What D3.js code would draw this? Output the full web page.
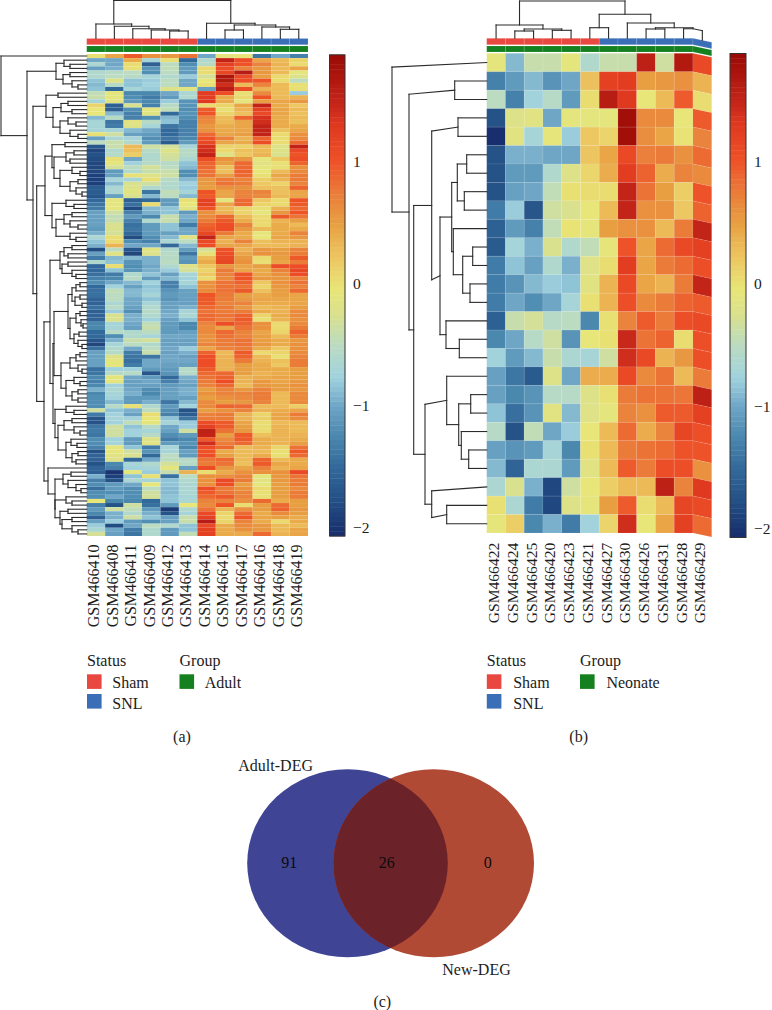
<!DOCTYPE html>
<html>
<head>
<meta charset="utf-8">
<script src="https://cdn.jsdelivr.net/npm/d3@7"></script>
<style>
html,body{margin:0;padding:0;background:#fff}
svg{display:block}
text{font-family:"Liberation Serif",serif;fill:#1c1c1c}
</style>
</head>
<body>
<svg id="chart" width="772" height="1010"></svg>
<script>
const adultSamples = ["GSM466410","GSM466408","GSM466411","GSM466409","GSM466412","GSM466413","GSM466414","GSM466415","GSM466417","GSM466416","GSM466418","GSM466419"];
const neonateSamples = ["GSM466422","GSM466424","GSM466425","GSM466420","GSM466423","GSM466421","GSM466427","GSM466430","GSM466426","GSM466431","GSM466428","GSM466429"];
const statusNames = ["Sham","SNL"];
const statusPerSample = ["Sham","Sham","Sham","Sham","Sham","Sham","SNL","SNL","SNL","SNL","SNL","SNL"];
const colorTicks = [-2,-1,0,1];
const vennSets = ["Adult-DEG","New-DEG"];
const vennCounts = [91,26,0];

const adultValues = [
[0,.45,.95,.6,.55,.8,-1,-.1,-.05,-1.4,-1,-1.3],
[-1,-1,.4,-.7,0,-1.5,-.6,1.5,1.05,.45,.3,.1],
[-.65,-1,.02,-1.6,-.5,-1.2,-.55,1.2,1,.7,.35,.05],
[-1.05,-.95,0,-1.15,-.45,-1.1,.05,1.05,.7,.55,.3,.45],
[-.6,-.55,-.5,-1.2,-.5,-1.1,.02,1.15,1.6,.55,.3,-.1],
[-.6,-.5,-.55,-.7,-.6,-.8,-.3,1.7,1.1,.5,.05,-.2],
[-.85,-.2,-.85,-.8,-.5,-1,-.05,1.65,1.05,1,.05,-.5],
[-.9,-.55,-.85,-.75,-.5,-1,0,1.4,.3,.7,.3,0],
[-.85,-1.5,-.7,-.8,-.2,-.15,-1.05,1.6,1.05,.35,.3,0],
[-.45,-.1,-1.25,-1.25,-1,-.65,1.25,1.05,0,.65,.3,-.8],
[-.4,-.1,-1.2,-1.35,-1.1,-.6,1.25,.4,.05,1,.3,.35],
[-.7,-.15,-1.1,-1.25,-.8,-1.15,1.3,.4,-.1,.5,.45,.55],
[.1,-1.6,-.25,-1.3,-.55,-1.15,.05,.1,.45,1.5,.4,.2],
[-.05,-1.6,-1.2,-.1,-.45,-1.2,.95,0,.35,1.2,.45,.3],
[-.05,-.9,-1.3,-.15,-1.5,-1.15,1,.1,.25,1.1,.45,.25],
[-.9,-.55,-1.3,-1.2,-.9,-1.2,.7,.3,.9,1.35,.4,.3],
[-.7,-1.4,-.15,-.55,-.85,-1.3,.65,.3,.45,1.4,.4,.25],
[-.7,-1.35,-.2,-.7,-1.4,-1.3,.55,.4,.45,1.5,.4,.4],
[-.7,-.7,-.9,-1,-1.5,-1.3,.6,.4,.45,1.5,.25,.45],
[0,-.35,-1.05,-1.1,-1.5,-1.3,.85,.45,.5,1.5,.05,.6],
[-1.05,-.65,-.7,-1.2,-1.4,-1.25,1,.7,.35,.9,.03,.65],
[-.5,-.4,-.6,-1.1,-1.65,-1.1,1.15,.45,.4,1.05,.02,.85],
[-1.7,-.4,.3,-.35,-.3,-.7,1.35,.1,.1,.3,-.2,1.5],
[-1.85,-.6,.25,-.55,-.2,-.55,1.4,.05,.25,.3,-.2,1.1],
[-1.75,-.55,.15,-.6,-.3,-.55,1.5,-.2,.2,.35,-.25,1],
[-1.8,0,-1,-.6,-.35,-.65,1.05,.6,.55,-.1,.2,1.05],
[-1.85,-.1,-.75,-.55,-.55,-.85,.9,.5,.85,-.15,0,.9],
[-1.85,-.3,-.5,-.3,-.5,-.9,.85,.25,.85,-.1,0,.6],
[-1.85,-1.1,-.6,-.4,-.4,-1.2,.8,.25,.9,-.05,.3,.65],
[-1.9,-1.05,0,-.2,-.35,-1.2,.8,.5,.85,0,.45,.75],
[-1.9,-.7,-.7,0,-.55,-.9,.55,.75,.7,.15,.35,.75],
[-1.9,-.9,-.25,-.35,-.6,-.75,.55,.8,.75,.2,.1,.7],
[-1.65,-.65,-.2,-.6,-.6,-.8,.5,.6,.6,.25,.25,.9],
[-1.65,-.65,-.15,-1.4,-.45,-.7,1,.45,.7,.7,.25,.45],
[-1.7,-1.05,-.25,-.9,-.5,-.9,.95,.45,.7,.65,.3,.45],
[-1.5,-.1,-1.6,-1.5,-1.1,0,1.2,-.1,.85,.2,.05,1],
[-1.4,-.1,-1.45,.05,-1.1,-.05,1.2,.45,.85,.1,.05,.95],
[-1.35,-.1,-1.8,-.9,-.85,-.15,1,.3,.1,0,.35,.85],
[-1.05,-.35,-1.3,-.95,-.85,-1.1,.6,.35,.1,-.1,.55,1],
[-1.05,-.45,-1.1,-1.25,-.4,-.95,.65,.85,.3,.05,.95,.8],
[-1.05,-.4,-1.3,-.6,-.4,-1,.75,.95,.4,.05,.35,.5],
[-1.05,-.25,-1.45,-1.1,-.85,-1.35,.9,1.05,.7,.05,.4,.3],
[-1.1,-.25,-1.4,-1.1,-.85,-1,.95,1.05,.55,.3,.4,.4],
[-.95,-.3,-1.5,-1.1,-1.05,-1,1.15,.75,.4,-.1,.4,.7],
[-.65,.02,-1.8,-1.2,-.9,-.15,1.5,.45,.4,-.05,.45,.55],
[-.85,.05,-1.2,-1.3,-.65,-.5,1.1,.35,.7,.25,.35,.35],
[-.95,.35,-1,-1,-1.5,-.9,1.05,.45,.45,.3,.3,.35],
[-1.8,-.5,-1.7,-.15,-.6,-1.1,-.3,1,.35,.55,.5,.7],
[-1.05,-.15,-1.85,-.2,-.55,-1.4,0,1.05,.45,.6,.55,.75],
[-1.35,-.9,-.9,-.95,-.55,-1.1,.3,1.1,.55,.05,.5,.95],
[-.6,-.85,-1.15,-.95,-.5,-1.15,.4,1.15,.6,0,.45,.75],
[-1.5,.02,-1.2,-1,-.6,-.2,.2,.55,.45,.5,1.05,1.05],
[-1.5,-.85,-1.15,-.95,-.8,-.3,.1,.75,.45,.4,.7,1.15],
[-1.45,-1.35,-.6,-.85,-1.05,-.7,.2,.7,1,.45,.6,1.05],
[-1.3,-1.25,-.55,-1.1,-.9,-.75,.05,.65,1,.55,.55,.7],
[-1.2,-1,-.9,-.75,-1.3,-.7,.6,.8,.9,.2,.6,.8],
[-1.5,-.75,-1.05,-.85,-1.3,-.85,.6,.8,.8,.1,.55,.7],
[-1.45,-.45,-.9,-.8,-1.15,-1.05,.65,.8,.95,.25,.5,.85],
[-1.45,-.5,-.9,-.7,-1.1,-1.05,1,.75,.5,.4,.5,.45],
[-1.55,-.5,-1,-.85,-1.15,-1.05,.95,.75,.55,.45,.45,.45],
[-1.55,-.65,-1,-.7,-1.05,-1.05,.95,.7,.7,.4,.4,.45],
[-1.45,-.55,-1.05,-.6,-1.05,-.95,.85,.75,.55,.3,.35,.5],
[-1.6,-.8,-1.2,-.55,-1,-.7,.8,.75,.75,.4,.35,.65],
[-1.55,-.25,-.95,-.6,-.95,-.65,.85,.8,.9,.1,.4,.65],
[-1.55,-.25,-.95,-.75,-1.05,-.85,.85,.75,.95,0,.35,.6],
[-1.25,-.7,-1,-.45,-1.1,-1.25,.7,1.05,.9,.6,.05,.65],
[-1.25,-.7,-1.05,-.4,-1.1,-1.25,.65,.45,.8,.6,.05,.75],
[-1.5,-.55,-.6,-.5,-1.1,-1.05,.65,.85,.7,.45,.1,.9],
[-1.5,-1.2,-.6,-.7,-1,-1,.6,.8,.7,.5,.3,.75],
[-1.7,-.95,-.4,-.3,-1.05,-1.05,.6,.75,.8,.5,.4,.55],
[-1.85,-.7,-.5,-.6,-1.05,-1.05,.7,.75,.8,.55,.4,.6],
[-1.45,-.6,-1,-.5,-1,-.8,.45,.7,.75,.4,.2,.6],
[-1.05,-.55,-1.35,-.4,-1.05,-.95,.9,.3,.95,.05,.1,.65],
[-1.05,-.2,-1.4,-1.4,-1,-1.05,1.05,.35,.9,.3,0,.7],
[-1.05,-.1,-1.45,-1,-1,-1,1.05,.35,.75,.35,.25,.75],
[-1.05,-.1,-1.35,-1,-1.05,-1.05,1.05,.35,.5,.4,.2,.75],
[-1.45,-.75,-.75,-1.1,-1.1,-.55,.95,.35,.5,.4,.4,.5],
[-1.4,-.55,-.55,-1.7,-1.15,-.55,.85,.85,.5,.35,.4,.5],
[-1.25,-.1,-1,-1.1,-1.5,-.95,.8,.9,.35,.4,.45,.5],
[-1.3,-.1,-1.05,-1,-1.3,-1,.75,1.05,.35,.55,.45,.55],
[-1.25,-.75,-1.05,-1.05,-1.1,-1.05,.7,.85,.3,.55,.5,.6],
[-.95,-.65,-1,-1.2,-1.05,-.95,.5,.7,.55,.7,.5,.55],
[-1.25,-.7,-.95,-1.25,-1.05,-.95,.6,.7,.7,.75,.3,.65],
[-1.2,-.75,-1.1,-1.1,-1.05,-1.05,.5,.6,.65,.75,.3,.65],
[-1.2,-.9,-1.1,-.95,-1.4,-.9,.65,.5,.55,.7,.3,.65],
[-1.2,-.55,0,-.6,-1.1,-.75,.65,.9,.85,.3,.3,.15],
[-.35,-.85,-.95,-.5,-1.2,-1.75,.5,.6,.7,.35,.4,.45],
[-1.35,-.75,-1.05,.02,-1.3,-1.65,.7,.75,.35,.1,.45,.75],
[-1.7,-.7,-.75,-.05,-.85,-1.4,.75,.75,.35,.15,.45,.65],
[-1.75,-.75,-.45,-.1,-.7,-.8,1.05,.95,.45,.02,.3,.3],
[-1.4,-.35,-.85,-.55,-1,-.8,1.2,.95,.5,.02,.35,.3],
[-1.35,-.35,-.75,-.7,-1.05,-.35,1.55,.8,.55,.05,.35,.3],
[-1.4,-.35,-.75,-.55,-1.2,-1.1,1.5,.5,.95,.25,.35,.35],
[-1.2,-.75,-1.1,-.2,-1.35,-1.25,.95,.65,.95,.4,.35,.4],
[-1.2,-.7,-1.1,-.15,-1.1,-1.15,1.4,.75,.85,.4,.35,.5],
[-1.3,-.1,-.85,-1.35,-.7,-1.25,1.05,.85,.3,.35,.1,.8],
[-1.75,-.1,-.35,-1.15,-.7,-1.05,1,.4,.3,.3,0,.95],
[-1.55,-.15,-.25,-1.5,-.5,-1.1,1.05,.5,.3,.4,0,.85],
[-1.55,-.2,-1.5,-1,-.5,-.55,.8,.85,.3,.9,.3,.4],
[-1.75,-1.25,-.7,-.6,-.3,-.55,.75,.8,.25,.95,.45,.4],
[-1.55,-1.3,-.75,-.7,-.1,-1.05,1.05,.55,.45,.7,.35,.45],
[-1.6,-2,-.1,-.8,-.4,.35,.02,.4,.6,.6,.6,1.1],
[-.95,-1.9,-.85,0,-1.45,-.5,.6,.6,.7,-.1,.55,.8],
[-1.3,-1.75,-.65,-.7,-.85,-.6,.6,1.1,.75,-.15,.55,.75],
[-1.2,-1.1,-1,-.05,-.85,-.65,.6,1.05,.5,-.1,.5,.75],
[-1.45,-1.1,-1.2,-.5,-.9,-.65,1.05,.75,.6,.05,.5,.65],
[-1.2,-1.2,-1.2,-.35,-.9,-.65,.95,.8,.7,0,.5,.75],
[-1.2,-1,-1.2,-.3,-.85,-.7,.85,.95,.7,0,.5,.75],
[-.05,-1.25,-1.25,-1.5,-.85,-.65,.7,.7,.6,.85,.4,.5],
[-1.3,-1.75,-.35,-1.45,-1.1,-.05,.65,1,.03,.5,.85,.5],
[-1.1,-.35,-.45,-1.1,-1.95,-.6,.8,.35,.6,.5,.9,.55],
[-1.25,-.95,-.6,-.95,-1.75,-.7,1.1,.1,.85,.4,.65,.5],
[-1.6,-.95,-.35,-.85,-1.05,-.4,1.2,.05,1,.45,.5,.4],
[-1.05,-.8,-1.1,-1.2,-1.05,-.4,1.6,.1,.7,.4,.05,.4],
[-.8,-1.8,-1,-.5,-.6,-.85,1.1,.4,.65,.55,.3,.3],
[-.65,-1,-1.35,-.6,-1.1,-.85,1.2,.4,.6,.55,.3,.45],
[-.3,-1.05,-1.4,-.6,-1.1,-.45,1.2,.4,.4,.85,.35,.45]
];

const neonateValues = [
[-.1,-.9,-.4,-.4,-.1,-.6,-.4,-.4,1.55,-.35,1.65,1.1],
[-1.3,-1.1,-.9,-1.15,-1,.25,1.2,1.25,.5,.55,.6,.35],
[-.5,-1.3,-.75,-.55,-1.1,.03,1.6,1.3,-.05,.3,.95,.02],
[-1.75,-.2,-.15,-1,-.1,-.1,-.1,1.8,.65,.65,-.05,.95],
[-2.05,-.15,-.7,-.08,-.8,.2,.1,1.8,.62,.45,-.02,.7],
[-1.75,-.95,-.95,-1,-1,.22,.45,1.1,.72,.75,.6,.85],
[-1.75,-1.1,-1.1,-.6,-.2,.08,.4,1.25,.9,.4,.7,.65],
[-1.75,-1.05,-1,-.45,0,.03,.03,1.5,.8,.5,.15,1],
[-1.35,-.8,-1.7,-.35,-.25,-.05,.3,1.5,.6,.6,.2,.9],
[-1.6,-1.1,-1.3,-.45,-.02,-.08,.5,.6,.6,.3,.75,1.5],
[-1.65,-.72,-.95,-.25,-.6,-.45,-.08,1,.45,.85,1.1,1.2],
[-1.35,-.85,-1.05,-.6,-.95,-.18,.02,1.25,.45,.75,.85,1.05],
[-1.35,-1.15,-.9,-.8,-.85,-.15,.35,1.1,.45,.35,.75,1.5],
[-1.35,-1,-1.2,-1,-.7,0,.35,1.05,.65,.75,.9,.95],
[-1.6,-.4,-.3,-.55,-.5,-1.25,0,.7,.95,.75,1.05,1.1],
[-1.25,-1,-.55,-.35,-1.15,-.05,0,1.45,.8,.9,.03,1.05],
[-.75,-1.1,-.9,-.4,-.65,-.7,-.35,1.4,1.1,.35,.55,1.05],
[-1.05,-1.4,-1.65,-.2,-1,.4,.4,1.1,.65,.8,.3,.75],
[-1.05,-1.25,-1.15,-.55,-.55,-.2,0,.75,.8,.8,.78,1.55],
[-.85,-1.45,-1.15,-.15,-.9,-.18,-.1,.7,.6,.95,.95,1.2],
[-.55,-1.75,-.45,-1,-.8,-.05,.3,.85,.4,.7,1.15,1.05],
[-1.05,-1.15,-1.1,-.7,-1.25,0,.3,.75,.8,.85,1,1],
[-.9,-1.55,-.65,-.65,-1.1,-.15,.3,.95,.75,1.05,1.05,.6],
[-.65,-.25,-.95,-1.85,-.35,-.05,.15,.3,.3,1.55,.7,1.3],
[0,-.65,-1.35,-1.85,-.2,-.08,.5,.95,.02,.3,1.15,1.1],
[-.08,.15,-1.25,-.95,-1.35,-.75,.1,1.4,-.05,.45,1.2,.85]
];

// Clustering trees. A node is [merge level, first child, second child, optional kink];
// a bare number is a leaf and gives that leaf's kink.
const adultRowTree = [1, 0, [27,
  [56,[64,0,[70,0,0]],[63,[70,0,0],[72,0,[78,0,0]]]],
  [33,
    [46,[58,0,0],[53,[61,[68,0,0],[72,0,0]],[60,[68,0,[76,0,0]],[70,0,[78,0,0]]]]],
    [36.7,
      [45,
        [52,[65,0,0],[54,[66,[74,0,0],[70,0,0]],[60,[72,0,[80,0,0]],[70,[78,0,0],[76,0,[82,0,0]]]]]],
        [52,[66,0,[74,0,0]],[56,[64,[72,0,0],[70,0,[78,0,0]]],[70,0,[76,0,0]]]]],
      [44,
        [50,
          [60,[64,[72,0,0],[68,0,0]],[62,[68,0,0],[72,0,[76,0,0]]]],
          [53,
            [54,
              [68,[72,[76,[80,0,0],0],[75,[80,0,0],[82,0,0]]],[70,[76,[80,0,0],[81,0,[83,0,0]]],[74,[79,0,0],[78,0,[82,0,0]]]]],
              [61,[70,[76,[80,0,0],0],[78,0,[82,0,0]]],[66,[74,0,[80,0,0]],[72,[78,0,0],[78,0,0]]]]],
            [55,[66,0,[74,0,0]],[58,[64,[72,0,0],[74,0,[80,0,0]]],[66,[71,0,[77,0,0]],[72,[78,0,0],[76,0,0]]]]]]],
        [48,0,[55,
          [63,[71,0,0],[68,0,[76,0,[81,0,0]]]],
          [55,[66,0,[72,0,0]],[60,[68,0,0],[62,[72,0,0],[72,0,[78,0,0]]]]]]]]]]]];
const adultColTree = [0.5,[24,0,[26.3,0,[28.7,0,[30,0,[31,0,0]]]]],[23.3,0,[25,[30,0,0],[27,0,[29.3,0,0]]]]];
const neonateRowTree = [392,4.6,[409,[454.7,0,0,4],[413.7,
  [431.7,[458,0,0,4],[440,
    [451.7,[457.3,[466.7,0,0],[464.3,0,0]],[453.3,0,[462.7,[472.7,0,0],[470,0,0]]]],
    [446,0,[459.3,0,0]],4]],
  [425,[446.7,0,[458.7,[470.7,0,0],[461.3,0,[468.7,0,0]]],4],[431.7,4,[446.7,0,0,3]]]]]];
const neonateColTree = [1,[25,0,[29,[31,0,0],[30.3,0,0]]],[14.3,[27.7,0,0],[23,0,[27.7,[29,0,0],[28.7,0,0]]]]];

const colorDomain = [-2.07,-1.78,-1.5,-1.23,-1,-.77,-.49,-.27,-.05,.22,.49,.74,1,1.29,1.45,1.87];
const colorRange = ["#172c6c","#234f85","#33699b","#4d8ab0","#6fa6c6","#a0d2de","#bcdcc0","#d8e090","#e8e678","#edc560","#e8a042","#ea7d3a","#ee5228","#e03a20","#c8281a","#9a0a06"];
const heatColor = d3.scaleLinear().domain(colorDomain).range(colorRange).clamp(true);
const statusColor = d3.scaleOrdinal().domain(statusNames).range(["#e8483f","#3a6fb8"]);
const groupGreen = "#14801f";

const svg = d3.select("#chart");
const serif = 16;

svg.append("defs").append("filter").attr("id","soften")
  .attr("x","-1%").attr("y","-1%").attr("width","102%").attr("height","102%")
  .append("feGaussianBlur").attr("stdDeviation","0.35 0.55");

function polygon(pts){
  const p = d3.path();
  pts.forEach((q,i)=> i ? p.lineTo(q[0],q[1]) : p.moveTo(q[0],q[1]));
  p.closePath();
  return p.toString();
}

function panel(cfg){
  const g = svg.append("g");
  const x = d3.scaleBand().domain(cfg.samples).range(cfg.xRange);
  const y = d3.scaleBand().domain(d3.range(cfg.values.length)).range(cfg.yRange);
  const warp = cfg.shear
    ? (px,py)=>[px, py + Math.max(0, px - cfg.seam) * cfg.shear]
    : (px,py)=>[px,py];
  const box = (x0,x1,y0,y1)=>polygon([warp(x0,y0),warp(x1,y0),warp(x1,y1),warp(x0,y1)]);

  // heat cells
  const cells = cfg.values.flatMap((row,r)=>row.map((v,c)=>({r,c,v})));
  const heat = g.append("g");
  if (cfg.soft) heat.attr("filter","url(#soften)");
  heat.selectAll("path").data(cells).join("path")
    .attr("d",d=>{const s=cfg.samples[d.c];return box(x(s),x(s)+x.bandwidth(),y(d.r),y(d.r)+y.bandwidth());})
    .attr("fill",d=>heatColor(d.v))
    .attr("stroke",cfg.soft?heatColorStroke:"#fff").attr("stroke-opacity",cfg.soft?0:0.16).attr("stroke-width",0.5);

  // annotation bars
  g.append("g").selectAll("path").data(cfg.samples).join("path")
    .attr("d",(s)=>box(x(s),x(s)+x.bandwidth(),cfg.statusBar[0],cfg.statusBar[1]))
    .attr("fill",(s,i)=>statusColor(statusPerSample[i]))
    .attr("stroke","#fff").attr("stroke-opacity",0.22).attr("stroke-width",0.5);
  g.append("g").selectAll("path").data(cfg.samples).join("path")
    .attr("d",(s)=>box(x(s),x(s)+x.bandwidth(),cfg.groupBar[0],cfg.groupBar[1]))
    .attr("fill",groupGreen)
    .attr("stroke","#fff").attr("stroke-opacity",0.22).attr("stroke-width",0.5);

  // dendrograms
  const line = d3.line();
  function tree(root,leafLevel,posOf,toScreen){
    const segs = [];
    let leaf = 0;
    (function walk(n){
      if (typeof n === "number"){ const o={pos:posOf(leaf++),level:leafLevel,kink:n}; return o; }
      const a = walk(n[1]), b = walk(n[2]);
      const pa = a.pos + a.kink, pb = b.pos + b.kink;
      [a,b].forEach(c=>segs.push([[n[0],c.pos+c.kink],[c.level,c.pos]]));
      segs.push([[n[0],pa],[n[0],pb]]);
      return {pos:(pa+pb)/2,level:n[0],kink:n[3]||0};
    })(root);
    return segs.map(s=>s.map(toScreen));
  }
  const rowSegs = tree(cfg.rowTree,cfg.xRange[0],i=>y(i)+y.bandwidth()/2,q=>warp(q[0],q[1]));
  const colSegs = tree(cfg.colTree,cfg.statusBar[0],i=>x(cfg.samples[i])+x.bandwidth()/2,q=>[q[1],q[0]])
    .map(s=>{
      if (cfg.shear && s[0][1]===s[1][1] && (s[0][0]-cfg.seam)*(s[1][0]-cfg.seam)<0)
        return [s[0],[cfg.seam,s[0][1]],s[1]];
      return s;
    }).map(s=>s.map(q=>warp(q[0],q[1])));
  g.append("g").selectAll("path").data(rowSegs.concat(colSegs)).join("path")
    .attr("d",line).attr("fill","none").attr("stroke","#2b2b2b").attr("stroke-width",1.1)
    .attr("stroke-linecap","square");

  // sample labels
  g.append("g").selectAll("text").data(cfg.samples).join("text")
    .attr("transform",s=>`translate(${x(s)+x.bandwidth()/2-2},${cfg.labelEnd}) rotate(-90)`)
    .attr("dy","0.33em").attr("text-anchor","end")
    .attr("font-size",cfg.labelSize).text(s=>s);

  // colour key
  const kY = d3.scaleLinear().domain([colorDomain[0],1.877]).range(cfg.keyY);
  const bins = d3.range(100).map(i=>colorDomain[0]+(1.877-colorDomain[0])*i/100);
  const step = Math.abs(kY(bins[1])-kY(bins[0]));
  g.append("g").selectAll("rect").data(bins).join("rect")
    .attr("x",cfg.keyX[0]).attr("width",cfg.keyX[1]-cfg.keyX[0])
    .attr("y",d=>kY(d)-step).attr("height",step+0.4)
    .attr("fill",d=>heatColor(d+(1.877-colorDomain[0])/200));
  g.append("rect").attr("x",cfg.keyX[0]).attr("width",cfg.keyX[1]-cfg.keyX[0])
    .attr("y",cfg.keyY[1]).attr("height",cfg.keyY[0]-cfg.keyY[1])
    .attr("fill","none").attr("stroke","#333").attr("stroke-width",1);
  const axis = d3.axisRight(kY).tickValues(colorTicks).tickSize(0).tickPadding(0).tickFormat(d3.format("d"));
  const ax = g.append("g").attr("transform",`translate(${cfg.keyX[1]+8},0)`).call(axis);
  ax.select(".domain").remove();
  ax.selectAll("text").attr("font-size",15.5).attr("font-family","Liberation Serif").attr("fill","#1c1c1c");

  // legend
  const L = cfg.legend;
  const lg = g.append("g").attr("font-size",serif);
  lg.append("text").attr("x",L.x1).attr("y",666).text("Status");
  lg.append("text").attr("x",L.x2).attr("y",666).text("Group");
  statusNames.forEach((n,i)=>{
    lg.append("rect").attr("x",L.x1).attr("y",i?694:674.3).attr("width",14.6).attr("height",14.6).attr("fill",statusColor(n));
    lg.append("text").attr("x",L.x1+L.gap).attr("y",i?709:687.5).text(n);
  });
  lg.append("rect").attr("x",L.x2).attr("y",674.3).attr("width",14.6).attr("height",14.6).attr("fill",groupGreen);
  lg.append("text").attr("x",L.x2+L.gap).attr("y",687.5).text(cfg.groupName);
  lg.append("text").attr("x",L.cap).attr("y",741.7).attr("text-anchor","middle").text(cfg.caption);
}
const heatColorStroke = "none";

panel({
  samples:adultSamples, values:adultValues, rowTree:adultRowTree, colTree:adultColTree,
  xRange:[86.7,308], yRange:[54,536], statusBar:[38.5,44.7], groupBar:[46,52], soft:true,
  labelEnd:544.5, labelSize:16, keyX:[329.5,345], keyY:[536,54.8],
  legend:{x1:87,x2:179.5,gap:25.3,cap:182}, groupName:"Adult", caption:"(a)"
});
panel({
  samples:neonateSamples, values:neonateValues, rowTree:neonateRowTree, colTree:neonateColTree,
  xRange:[486.7,711.7], yRange:[53.3,533], statusBar:[38.3,44.7], groupBar:[46,52],
  shear:0.213, seam:692.95,
  labelEnd:542.7, labelSize:15.6, keyX:[730,746], keyY:[537.5,53.5],
  legend:{x1:486.8,x2:580,gap:26.4,cap:578.7}, groupName:"Neonate", caption:"(b)"
});

// Venn
const venn = svg.append("g");
const vennX = d3.scaleOrdinal().domain(vennSets).range([347.5,433.7]);
const vennColor = d3.scaleOrdinal().domain(vennSets).range(["#3f4494","#b04a35"]);
const cy = 863.3, rx = 100.3, ry = 94;
venn.append("clipPath").attr("id","leftClip").append("ellipse")
  .attr("cx",vennX(vennSets[0])).attr("cy",cy).attr("rx",rx).attr("ry",ry);
venn.selectAll("ellipse.set").data(vennSets).join("ellipse").attr("class","set")
  .attr("cx",d=>vennX(d)).attr("cy",cy).attr("rx",rx).attr("ry",ry).attr("fill",d=>vennColor(d));
venn.append("ellipse").attr("clip-path","url(#leftClip)")
  .attr("cx",vennX(vennSets[1])).attr("cy",cy).attr("rx",rx).attr("ry",ry).attr("fill","#6b2229");
const countX = d3.scaleOrdinal().domain(vennCounts).range([289.3,386.7,487.7]);
venn.selectAll("text.count").data(vennCounts).join("text").attr("class","count")
  .attr("x",d=>countX(d)).attr("y",868).attr("text-anchor","middle")
  .attr("font-size",serif).style("fill","#0b0b0b").text(d=>d);
venn.append("text").attr("x",238.3).attr("y",770.7).attr("font-size",serif).text(vennSets[0]);
venn.append("text").attr("x",442.3).attr("y",975).attr("font-size",serif).text(vennSets[1]);
venn.append("text").attr("x",382.3).attr("y",1006.7).attr("text-anchor","middle").attr("font-size",serif).text("(c)");
</script>
</body>
</html>
